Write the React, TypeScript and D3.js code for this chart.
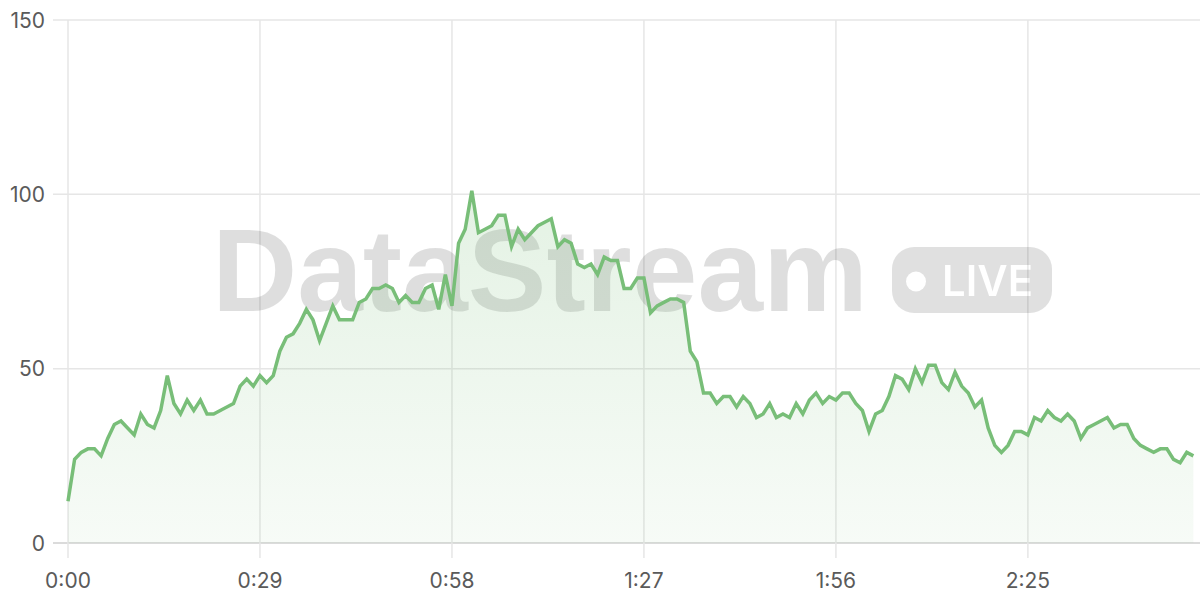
import React from "react";
import * as d3 from "d3";

const values: number[] = [
  12, 24, 26, 27, 27, 25, 30, 34, 35, 33, 31, 37, 34, 33, 38, 48, 40, 37, 41, 38,
  41, 37, 37, 38, 39, 40, 45, 47, 45, 48, 46, 48, 55, 59, 60, 63, 67, 64, 58, 63,
  68, 64, 64, 64, 69, 70, 73, 73, 74, 73, 69, 71, 69, 69, 73, 74, 67, 77, 68, 86,
  90, 101, 89, 90, 91, 94, 94, 85, 90, 87, 89, 91, 92, 93, 85, 87, 86, 80, 79, 80,
  77, 82, 81, 81, 73, 73, 76, 76, 66, 68, 69, 70, 70, 69, 55, 52, 43, 43, 40, 42,
  42, 39, 42, 40, 36, 37, 40, 36, 37, 36, 40, 37, 41, 43, 40, 42, 41, 43, 43, 40,
  38, 32, 37, 38, 42, 48, 47, 44, 50, 46, 51, 51, 46, 44, 49, 45, 43, 39, 41, 33,
  28, 26, 28, 32, 32, 31, 36, 35, 38, 36, 35, 37, 35, 30, 33, 34, 35, 36, 33, 34,
  34, 30, 28, 27, 26, 27, 27, 24, 23, 26, 25,
];

const xTickSeconds: number[] = [0, 29, 58, 87, 116, 145];
const xTickLabels: string[] = ["0:00", "0:29", "0:58", "1:27", "1:56", "2:25"];
const yTicks: number[] = [0, 50, 100, 150];

const W = 1200;
const H = 600;
const left = 68;
const right = 1200;
const top = 20;
const bottom = 543;

export default function App() {
  const x = d3.scaleLinear().domain([0, 171]).range([left, right]);
  const y = d3.scaleLinear().domain([0, 150]).range([bottom, top]);
  const pts = values.map((v, i) => [i, v] as [number, number]);
  const line = d3
    .line<[number, number]>()
    .x((d) => x(d[0]))
    .y((d) => y(d[1]))(pts) as string;
  const area = d3
    .area<[number, number]>()
    .x((d) => x(d[0]))
    .y0(y(0))
    .y1((d) => y(d[1]))(pts) as string;

  const font = "Inter, 'Noto Sans', sans-serif";

  return (
    <div style={{ position: "absolute", left: 0, top: 0 }}>
      <svg width={W} height={H} style={{ display: "block" }}>
        <defs>
          <linearGradient id="ag" gradientUnits="userSpaceOnUse" x1={0} y1={y(100)} x2={0} y2={bottom}>
            <stop offset="0" stopColor="#78be78" stopOpacity={0.2} />
            <stop offset="1" stopColor="#78be78" stopOpacity={0.06} />
          </linearGradient>
          <mask id="pillmask">
            <rect x={0} y={0} width={W} height={H} fill="white" />
            <circle cx={916} cy={281.5} r={10} fill="black" />
            <text
              x={942}
              y={296}
              fontFamily={font}
              fontWeight={600}
              fontSize={43}
              textLength={91}
              lengthAdjust="spacingAndGlyphs"
              fill="black"
            >
              LIVE
            </text>
          </mask>
        </defs>
        <rect width={W} height={H} fill="#ffffff" />
        {yTicks.map((t) => (
          <line key={"h" + t} x1={53} x2={right} y1={y(t)} y2={y(t)} stroke={t === 0 ? "#cfcfcf" : "#e6e6e6"} strokeWidth={1.5} />
        ))}
        {xTickSeconds.map((t) => (
          <line key={"v" + t} x1={x(t)} x2={x(t)} y1={top} y2={558} stroke="#e6e6e6" strokeWidth={1.5} />
        ))}
        <g>
          <text
            x={212}
            y={311}
            fontFamily="'Liberation Sans', Arial, sans-serif"
            fontWeight={700}
            fontSize={116}
            textLength={656}
            lengthAdjust="spacingAndGlyphs"
            fill="#000000"
            fillOpacity={0.13}
          >
            DataStream
          </text>
          <rect x={892} y={247} width={160} height={66} rx={22} fill="#000000" fillOpacity={0.12} mask="url(#pillmask)" />
        </g>
        <path d={area} fill="url(#ag)" />
        <path d={line} fill="none" stroke="#78be78" strokeWidth={3.5} strokeLinejoin="miter" />
        {yTicks.map((t) => (
          <text key={"yl" + t} x={45} y={y(t)} dy="0.36em" textAnchor="end" fontFamily={font} fontSize={21} fill="#5a5a5a">
            {t}
          </text>
        ))}
        {xTickSeconds.map((t, i) => (
          <text key={"xl" + t} x={x(t)} y={588} textAnchor="middle" fontFamily={font} fontSize={21} fill="#5a5a5a">
            {xTickLabels[i]}
          </text>
        ))}
      </svg>
    </div>
  );
}
